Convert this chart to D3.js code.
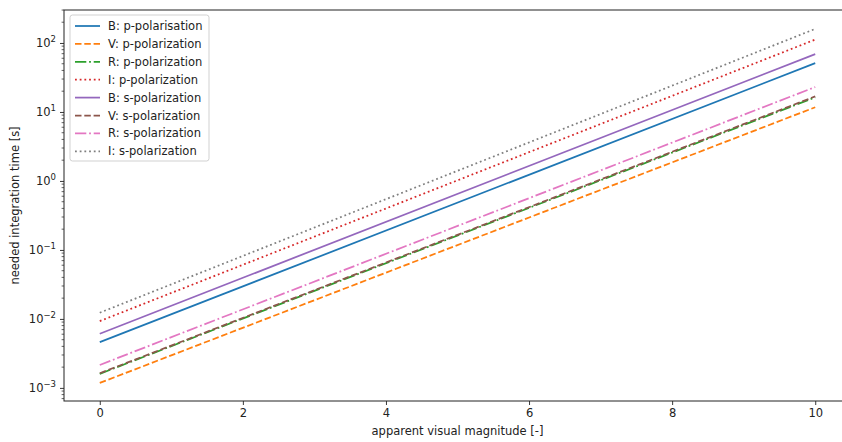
<!DOCTYPE html>
<html>
<head>
<meta charset="utf-8">
<script src="https://cdn.jsdelivr.net/npm/d3@7"></script>
<style>
  body { margin: 0; background: #fff; }
  text { font-family: "DejaVu Sans", sans-serif; fill: #222; }
</style>
</head>
<body>
<div id="chart"></div>
<script>
const W = 842, H = 442;
const margin = { top: 10, left: 64, bottom: 41, right: -9 };

// magnitudes where each series is evaluated
const magnitudes = [0, 10];

// series names, values at magnitude 0 and 10 (seconds)
const names = [
    "B: p-polarisation", "V: p-polarization", "R: p-polarization", "I: p-polarization",
    "B: s-polarization", "V: s-polarization", "R: s-polarization", "I: s-polarization"
];
const startValues = [0.0046, 0.00118, 0.0016, 0.0093, 0.0061, 0.00163, 0.00215, 0.0123];
const endValues = [51, 11.7, 16.3, 112, 69, 16.8, 23, 160];

const colors = ["#1f77b4", "#ff7f0e", "#2ca02c", "#d62728", "#9467bd", "#8c564b", "#e377c2", "#7f7f7f"];
const dashes = [null, "6.5,2.8", "11.3,2.8,1.8,2.8", "1.8,2.9", null, "6.5,2.8", "11.3,2.8,1.8,2.8", "1.8,2.9"];

const yTicks = [1e-3, 1e-2, 1e-1, 1e0, 1e1, 1e2];
const xTicks = [0, 2, 4, 6, 8, 10];

const series = names.map((name, i) => ({
    name,
    values: magnitudes.map((m, j) => ({ m, t: j === 0 ? startValues[i] : endValues[i] }))
}));

const width = W - margin.left - margin.right;
const height = H - margin.top - margin.bottom;

const svg = d3.select("#chart").append("svg").attr("width", W).attr("height", H);
const g = svg.append("g").attr("transform", `translate(${margin.left},${margin.top})`);

const x = d3.scaleLinear().domain([-0.5, 10.5]).range([0, width]);
const y = d3.scaleLog().domain([Math.pow(10, -3.19), Math.pow(10, 2.478)]).range([height, 0]);

const line = d3.line().x(d => x(d.m)).y(d => y(d.t));

g.selectAll("path.series")
    .data(series)
    .join("path")
    .attr("class", "series")
    .attr("d", d => line(d.values))
    .attr("fill", "none")
    .attr("stroke", (d, i) => colors[i])
    .attr("stroke-width", 1.75)
    .attr("stroke-dasharray", (d, i) => dashes[i]);

// minor ticks on the log axis
const minor = [];
for (let e = -4; e <= 2; e++) {
    for (let k = 2; k <= 9; k++) {
        const v = k * Math.pow(10, e);
        if (v >= y.domain()[0] && v <= y.domain()[1]) minor.push(v);
    }
}
g.append("g").selectAll("line")
    .data(minor)
    .join("line")
    .attr("x1", -2.4).attr("x2", 0)
    .attr("y1", d => y(d)).attr("y2", d => y(d))
    .attr("stroke", "#222").attr("stroke-width", 0.7);

const yAxis = g.append("g")
    .call(d3.axisLeft(y).tickValues(yTicks).tickSize(4).tickFormat(""));
yAxis.select(".domain").remove();
yAxis.selectAll(".tick line").attr("stroke", "#222").attr("stroke-width", 0.9);

const yLab = g.append("g").selectAll("text")
    .data(yTicks)
    .join("text")
    .attr("x", -8)
    .attr("y", d => y(d) + 4)
    .attr("text-anchor", "end")
    .style("font-size", "11.5px");
yLab.append("tspan").text("10");
yLab.append("tspan")
    .attr("dy", -5)
    .style("font-size", "8.5px")
    .text(d => { const e = Math.round(Math.log10(d)); return e < 0 ? "\u2212" + (-e) : e; });

const xAxis = g.append("g")
    .attr("transform", `translate(0,${height})`)
    .call(d3.axisBottom(x).tickValues(xTicks).tickSize(4).tickPadding(4));
xAxis.select(".domain").remove();
xAxis.selectAll(".tick line").attr("stroke", "#222").attr("stroke-width", 0.9);
xAxis.selectAll(".tick text")
    .style("font-size", "11.5px")
    .style("font-family", "DejaVu Sans, sans-serif")
    .attr("fill", "#222");

// frame
g.append("rect")
    .attr("width", width).attr("height", height)
    .attr("fill", "none").attr("stroke", "#222").attr("stroke-width", 1);

svg.append("text")
    .attr("x", margin.left + width / 2)
    .attr("y", H - 7)
    .attr("text-anchor", "middle")
    .style("font-size", "11.5px")
    .text("apparent visual magnitude [-]");

svg.append("text")
    .attr("transform", `translate(19,${margin.top + height / 2}) rotate(-90)`)
    .attr("text-anchor", "middle")
    .style("font-size", "11.5px")
    .text("needed integration time [s]");

// legend
const legend = g.append("g").attr("transform", "translate(6,5)");
legend.append("rect")
    .attr("width", 139).attr("height", 146)
    .attr("rx", 2.5)
    .attr("fill", "#fff").attr("fill-opacity", 0.8)
    .attr("stroke", "#ccc").attr("stroke-width", 0.9);

const item = legend.selectAll("g.item")
    .data(names)
    .join("g")
    .attr("class", "item")
    .attr("transform", (d, i) => `translate(0,${11 + i * 17.9})`);
item.append("line")
    .attr("x1", 5).attr("x2", 30)
    .attr("stroke", (d, i) => colors[i])
    .attr("stroke-width", 1.75)
    .attr("stroke-dasharray", (d, i) => dashes[i]);
item.append("text")
    .attr("x", 38).attr("y", 4)
    .style("font-size", "11.5px")
    .text(d => d);
</script>
</body>
</html>
